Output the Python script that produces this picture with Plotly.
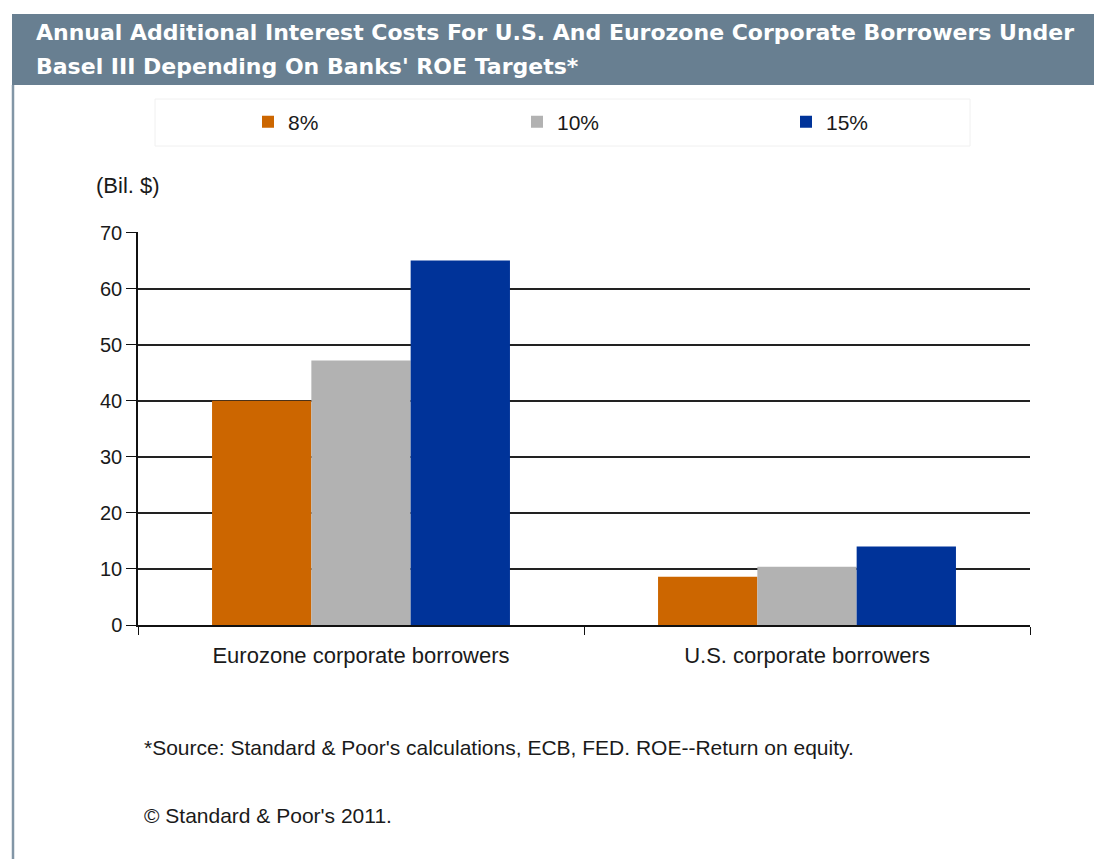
import plotly.graph_objects as go

categories = ["Eurozone corporate borrowers", "U.S. corporate borrowers"]
series_names = ["8%", "10%", "15%"]
roe_8 = [40.0, 8.6]
roe_10 = [47.2, 10.4]
roe_15 = [65.0, 14.0]
series_values = [roe_8, roe_10, roe_15]
colors = ["#cc6600", "#b2b2b2", "#003399"]
y_ticks = [0, 10, 20, 30, 40, 50, 60, 70]

title_lines = ["Annual Additional Interest Costs For U.S. And Eurozone Corporate Borrowers Under",
               "Basel III Depending On Banks' ROE Targets*"]
unit_label = "(Bil. $)"
footnotes = ["*Source: Standard & Poor's calculations, ECB, FED. ROE--Return on equity.",
             "\u00a9 Standard & Poor's 2011."]

# page has an 8px body margin; figure sized to fit the viewport
OFF = 8
W, H = 1102 - 2 * OFF, 867 - 2 * OFF
def px(x):
    return (x - OFF) / W
def py(y):
    return 1 - (y - OFF) / H

FONT = "Liberation Sans, Arial, sans-serif"
TITLE_FONT = "DejaVu Sans, Liberation Sans, Arial, sans-serif"
TXT = "#1a1a1a"

fig = go.Figure()
for name, vals, c in zip(series_names, series_values, colors):
    fig.add_trace(go.Bar(x=categories, y=vals, name=name,
                         marker=dict(color=c, line=dict(width=0))))

fig.update_layout(
    width=W, height=H,
    margin=dict(l=0, r=0, t=0, b=0, autoexpand=False),
    paper_bgcolor="white", plot_bgcolor="white",
    barmode="group", bargap=0.332, bargroupgap=0,
    font=dict(family=FONT, size=21, color=TXT),
    showlegend=True,
    legend=dict(orientation="h", x=px(248), xanchor="left", y=py(122), yanchor="middle",
                entrywidth=224, entrywidthmode="pixels",
                font=dict(family=FONT, size=21, color=TXT),
                bgcolor="rgba(0,0,0,0)", itemclick=False),
    xaxis=dict(domain=[px(138), px(1030)], showline=True, linecolor="#111", linewidth=1.5,
               ticks="outside", ticklen=8, tickcolor="#111", tickson="boundaries",
               ticklabelstandoff=10,
               showgrid=False, automargin=False, tickfont=dict(size=22, color=TXT)),
    yaxis=dict(domain=[py(625), py(232)], range=[0, 70.1], tickvals=y_ticks,
               showline=True, linecolor="#111", linewidth=1.5,
               ticks="outside", ticklen=10, tickcolor="#111",
               showgrid=True, gridcolor="#222", gridwidth=1.5, zeroline=False,
               automargin=False, tickfont=dict(size=20, color=TXT)),
    shapes=[
        dict(type="rect", xref="paper", yref="paper", x0=px(12), x1=1, y0=py(85), y1=py(14),
             fillcolor="#687f91", line=dict(width=0), layer="below"),
        dict(type="line", xref="paper", yref="paper", x0=px(13), x1=px(13), y0=0, y1=py(85),
             line=dict(color="#8296a6", width=2.5)),
        dict(type="rect", xref="paper", yref="paper", x0=px(155), x1=px(970), y0=py(146), y1=py(99),
             fillcolor="white", line=dict(color="#f0f0f0", width=1), layer="below"),
    ],
    annotations=[
        dict(text="<b>" + title_lines[0] + "</b>", xref="paper", yref="paper", x=px(34), y=py(33),
             xanchor="left", yanchor="middle", showarrow=False,
             font=dict(family=TITLE_FONT, size=22, color="white")),
        dict(text="<b>" + title_lines[1] + "</b>", xref="paper", yref="paper", x=px(34), y=py(67),
             xanchor="left", yanchor="middle", showarrow=False,
             font=dict(family=TITLE_FONT, size=22, color="white")),
        dict(text=unit_label, xref="paper", yref="paper", x=px(94), y=py(185),
             xanchor="left", yanchor="middle", showarrow=False, font=dict(size=22)),
        dict(text=footnotes[0], xref="paper", yref="paper", x=px(142), y=py(747),
             xanchor="left", yanchor="middle", showarrow=False, font=dict(size=21)),
        dict(text=footnotes[1], xref="paper", yref="paper", x=px(142), y=py(815),
             xanchor="left", yanchor="middle", showarrow=False, font=dict(size=21)),
    ],
)

fig.write_html("out.html")
